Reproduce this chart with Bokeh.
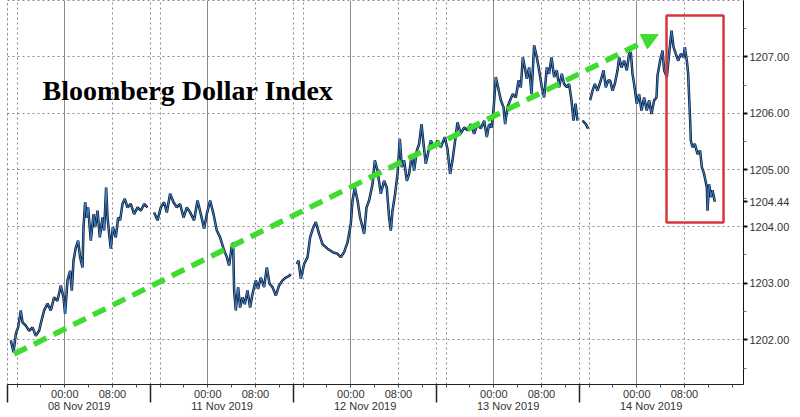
import numpy as np
from bokeh.plotting import figure
from bokeh.models import (ColumnDataSource, Range1d, LinearAxis, FixedTicker,
                          PrintfTickFormatter, Grid, Label, BoxAnnotation,
                          Arrow, NormalHead)
from bokeh.embed import file_html
from bokeh.resources import INLINE

# ---------------- data ----------------
# x axis: trading-time hours, 0 = 08 Nov 2019 00:00, each trading day = 24 h (weekend removed)
dates = ["08 Nov 2019", "11 Nov 2019", "12 Nov 2019", "13 Nov 2019", "14 Nov 2019"]
day_start = [0, 24, 48, 72, 96]
time_ticks = [0, 8]
time_labels = ["00:00", "08:00"]
y_ticks = [1202, 1203, 1204, 1205, 1206, 1207]

# session segments (gaps between them)
hours_a = [-9.06, -8.61, -8.22, -7.84, -7.39, -7.10, -6.55, -5.99, -5.42, -4.87, -4.31, -4.03,
           -3.47, -2.90, -2.35, -1.80, -1.23, -0.67, -0.22, 0.05, 0.45, 0.89, 1.17, 1.46, 1.85,
           2.23, 2.57, 2.97, 3.14, 3.41, 3.69, 3.91, 4.36, 4.82, 5.09, 5.49, 5.87, 6.33, 6.60,
           6.93, 7.17, 7.44, 7.72, 8.06, 8.56, 8.95, 9.28, 9.68, 10.07, 10.52, 11.08, 11.63,
           12.20, 12.76, 13.31, 13.88]
values_a = [1201.99, 1201.78, 1202.11, 1202.22, 1202.52, 1202.31, 1202.25, 1202.16, 1202.22,
            1202.07, 1202.16, 1202.29, 1202.52, 1202.64, 1202.52, 1202.75, 1202.69, 1202.96,
            1202.75, 1202.46, 1203.05, 1203.22, 1202.87, 1203.40, 1203.63, 1203.75, 1203.46,
            1203.28, 1203.99, 1204.43, 1204.16, 1204.34, 1203.75, 1204.22, 1203.99, 1204.28,
            1203.81, 1204.16, 1203.93, 1204.69, 1204.16, 1203.87, 1203.61, 1203.99, 1203.81,
            1204.16, 1204.11, 1204.40, 1204.49, 1204.34, 1204.40, 1204.22, 1204.34, 1204.28,
            1204.40, 1204.34]

hours_b = [14.99, 15.56, 16.11, 16.67, 17.12, 17.67, 18.24, 18.80, 19.35, 19.92, 20.48, 21.03,
           21.70, 22.27, 22.83, 23.38, 23.83, 24.39, 24.96, 25.51, 26.07, 26.64, 27.19, 27.58,
           27.98, 28.25, 28.42, 28.70, 29.09, 29.42, 29.83, 30.21, 30.66, 31.10, 31.50, 32.06,
           32.44, 32.90, 33.45, 33.90, 34.36, 34.86, 35.41, 35.97, 36.54, 37.09, 37.65, 37.93]
values_b = [1204.25, 1204.11, 1204.34, 1204.43, 1204.25, 1204.58, 1204.43, 1204.34, 1204.40,
            1204.16, 1204.34, 1204.25, 1204.11, 1204.46, 1204.22, 1203.96, 1204.22, 1204.46,
            1204.22, 1203.93, 1203.81, 1203.61, 1203.46, 1203.31, 1203.63, 1203.72, 1202.87,
            1202.52, 1202.93, 1202.57, 1202.75, 1202.63, 1202.87, 1202.57, 1202.81, 1203.05,
            1202.90, 1203.10, 1202.93, 1203.28, 1202.99, 1202.93, 1202.78, 1202.96, 1203.05,
            1203.10, 1203.13, 1203.16]

hours_c = [38.94, 39.22, 39.61, 40.17, 40.74, 41.17, 41.62, 42.13, 42.68, 43.25, 44.09, 44.93,
           45.77, 46.32, 46.88, 47.45, 48.00, 48.29, 48.67, 49.13, 49.56, 49.97, 50.24, 50.64,
           51.07, 51.65, 52.03, 52.48, 53.04, 53.59, 54.04, 54.43, 54.72, 55.00, 55.44, 55.84,
           56.23, 56.56, 56.95, 57.40, 57.79, 58.24, 58.63, 59.08, 59.47, 59.87, 60.21, 60.59,
           61.05, 61.43, 61.99, 62.55, 63.11, 63.78, 64.23, 64.67, 65.07, 65.51, 65.91, 66.46,
           67.02, 67.59, 68.14, 68.70, 69.27, 69.82, 70.38, 70.83, 71.21, 71.62, 71.95, 72.34,
           72.72, 73.18, 73.63, 73.90, 74.30, 74.74, 75.19, 75.70, 76.15, 76.54, 76.87, 77.21,
           77.54, 77.93, 78.33, 78.77, 79.22, 79.61, 80.06, 80.45, 80.90, 81.29, 81.69, 82.13,
           82.58, 82.97, 83.42, 83.80, 84.26, 84.64, 85.04, 85.38, 85.72, 86.05]
values_c = [1203.34, 1203.40, 1203.08, 1203.34, 1203.46, 1203.81, 1203.96, 1204.08, 1203.87,
            1203.69, 1203.61, 1203.55, 1203.52, 1203.46, 1203.55, 1203.72, 1204.05, 1204.46,
            1204.69, 1204.46, 1204.16, 1203.99, 1203.87, 1204.34, 1204.46, 1204.75, 1205.17,
            1204.99, 1204.58, 1204.81, 1204.69, 1204.16, 1203.93, 1204.28, 1204.58, 1204.93,
            1205.55, 1205.05, 1205.17, 1204.81, 1204.93, 1205.28, 1204.99, 1205.34, 1205.46,
            1205.81, 1205.46, 1205.11, 1205.34, 1205.52, 1205.40, 1205.52, 1205.40, 1205.58,
            1205.37, 1204.93, 1205.17, 1205.52, 1205.84, 1205.64, 1205.75, 1205.70, 1205.81,
            1205.64, 1205.81, 1205.73, 1205.87, 1205.58, 1205.81, 1205.75, 1206.05, 1206.64,
            1206.46, 1206.23, 1206.11, 1205.81, 1206.11, 1206.23, 1206.34, 1206.28, 1206.58,
            1206.46, 1206.99, 1206.81, 1206.61, 1206.81, 1206.34, 1207.20, 1206.99, 1206.76,
            1206.46, 1206.28, 1206.81, 1206.70, 1206.99, 1206.64, 1206.76, 1206.46, 1206.70,
            1206.52, 1206.46, 1206.52, 1206.23, 1205.87, 1206.17, 1205.87]

hours_d = [86.89, 87.45, 87.83]
values_d = [1205.87, 1205.81, 1205.73]

hours_e = [88.17, 88.57, 88.96, 89.41, 89.96, 90.42, 90.80, 91.19, 91.53, 91.93, 92.31, 92.77,
           93.04, 93.44, 93.88, 94.33, 94.71, 95.00, 95.28, 95.55, 96.00, 96.39, 96.79, 97.23,
           97.68, 98.07, 98.47, 98.91, 99.31, 99.48, 99.92, 100.32, 100.59, 101.04, 101.43,
           101.83, 102.17, 102.55, 102.94, 103.39, 103.84, 104.06, 104.40, 104.62, 104.79,
           104.96, 105.07, 105.36, 105.74, 106.20, 106.63, 106.92, 107.30, 107.76, 107.87,
           108.14, 108.43, 108.71, 109.10]
values_e = [1206.23, 1206.40, 1206.52, 1206.40, 1206.58, 1206.76, 1206.46, 1206.58, 1206.58,
            1206.40, 1206.52, 1206.76, 1206.99, 1206.81, 1206.93, 1206.76, 1207.05, 1207.08,
            1206.70, 1206.52, 1206.17, 1206.34, 1206.05, 1206.28, 1206.05, 1206.23, 1205.99,
            1206.23, 1206.28, 1206.67, 1206.93, 1207.11, 1206.76, 1206.64, 1207.05, 1207.46,
            1207.17, 1207.05, 1206.93, 1207.05, 1206.99, 1207.17, 1206.93, 1206.70, 1206.28,
            1205.87, 1205.52, 1205.40, 1205.46, 1205.28, 1205.34, 1205.05, 1204.93, 1204.69,
            1204.28, 1204.75, 1204.52, 1204.64, 1204.44]

segments = [(hours_a, values_a), (hours_b, values_b), (hours_c, values_c),
            (hours_d, values_d), (hours_e, values_e)]

# ---------------- build ----------------
xs, ys = [], []
for hs, vs in segments:
    if xs:
        xs.append(np.nan)
        ys.append(np.nan)
    xs.extend(hs)
    ys.extend(vs)
src = ColumnDataSource(dict(x=np.array(xs, dtype=float), y=np.array(ys, dtype=float)))
last_value = values_e[-1]

FRAME_W, FRAME_H = 736, 384
PX_PER_H, PX_PER_UNIT = 5.958, 56.62
X0 = -9.62
X1 = X0 + FRAME_W / PX_PER_H
Y1 = 1207.993
Y0 = Y1 - FRAME_H / PX_PER_UNIT

p = figure(frame_width=FRAME_W, frame_height=FRAME_H, x_range=Range1d(X0, X1),
           y_range=Range1d(Y0, Y1),
           output_backend="svg", toolbar_location=None, y_axis_location="right",
           min_border=0, min_border_left=7, min_border_right=0, min_border_top=0,
           min_border_bottom=0, background_fill_color="white", border_fill_color="white")

FONT = "Liberation Sans"
LBL = "#333333"

# --- x axis 1: times ---
xa = p.xaxis[0]
major_x = [d + t for d in day_start for t in time_ticks]
minor_x = [d + m for d in [-24] + day_start for m in (4, 12, 16, 20)]
minor_x = [m for m in minor_x if X0 < m < X1]
xa.ticker = FixedTicker(ticks=major_x, minor_ticks=minor_x)
xa.major_label_overrides = {d + t: lab for d in day_start for t, lab in zip(time_ticks, time_labels)}
xa.axis_line_color = "#222222"
xa.major_tick_out = 3
xa.major_tick_in = 0
xa.minor_tick_out = 3
xa.minor_tick_in = 0
xa.major_tick_line_color = "#444444"
xa.minor_tick_line_color = "#444444"
xa.major_label_standoff = 0
xa.axis_label_standoff = 0
xa.major_label_text_font = FONT
xa.major_label_text_font_size = "11px"
xa.major_label_text_color = LBL

# --- x axis 2: dates, with the day separators as ticks reaching up to the main axis ---
band_centers = [d + 2.4 for d in day_start]
separators = [d - 9.6 for d in day_start]
da = LinearAxis(ticker=FixedTicker(ticks=band_centers, minor_ticks=separators))
da.major_label_overrides = {c: lab for c, lab in zip(band_centers, dates)}
da.axis_line_color = None
da.major_tick_out = 0
da.major_tick_in = 0
da.minor_tick_out = 0
da.minor_tick_in = 18
da.minor_tick_line_color = "#222222"
da.minor_tick_line_width = 1.5
da.major_label_standoff = -3
da.axis_label_standoff = 0
da.major_label_text_font = FONT
da.major_label_text_font_size = "11px"
da.major_label_text_color = LBL
p.add_layout(da, "below")

# --- y axis (right); the last value is shown as an extra label ---
ya = p.yaxis[0]
ya.ticker = FixedTicker(ticks=y_ticks + [last_value],
                        minor_ticks=[t + 0.5 for t in [y_ticks[0] - 1] + y_ticks])
ya.formatter = PrintfTickFormatter(format="%.2f")
ya.axis_line_color = "#111111"
ya.major_tick_out = 4
ya.major_tick_in = 0
ya.major_tick_line_width = 2
ya.major_tick_line_color = "#111111"
ya.minor_tick_out = 3
ya.minor_tick_in = 0
ya.minor_tick_line_color = "#777777"
ya.major_label_standoff = 2
ya.axis_label_standoff = 0
ya.major_label_text_font = FONT
ya.major_label_text_font_size = "11px"
ya.major_label_text_color = LBL

# --- grids ---
GRID = "#8c8c8c"
p.xgrid.visible = False
p.ygrid.ticker = FixedTicker(ticks=y_ticks)
p.ygrid.grid_line_color = GRID
p.ygrid.grid_line_dash = "2 3"
p.add_layout(Grid(dimension=0, ticker=FixedTicker(ticks=day_start),
                  grid_line_color="#8a8a8a", grid_line_width=1))
dotted_x = [d + 8 for d in day_start] + [d - 8 for d in day_start] + separators
p.add_layout(Grid(dimension=0, ticker=FixedTicker(ticks=dotted_x),
                  grid_line_color=GRID, grid_line_dash="2 3"))
p.outline_line_color = GRID
p.outline_line_dash = "2 3"

# --- series ---
p.line("x", "y", source=src, line_color="#101828", line_width=2.5)
p.line("x", "y", source=src, line_color="#3a86d8", line_width=1.0)

# --- annotations ---
p.add_layout(Label(x=-3.75, y=1206.40, text="Bloomberg Dollar Index",
                   text_font="Liberation Serif", text_font_style="bold",
                   text_font_size="28px", text_color="black",
                   text_baseline="alphabetic"))

p.add_layout(Arrow(x_start=-8.5, y_start=1201.75, x_end=99.6, y_end=1207.39,
                   line_color="#3fdc2f", line_width=5.5, line_dash="14 8",
                   end=NormalHead(size=16, fill_color="#3fdc2f", line_color="#3fdc2f")))

p.add_layout(BoxAnnotation(left=100.99, right=110.56, bottom=1204.07, top=1207.73,
                           fill_color=None, fill_alpha=0, line_color="#d8363e",
                           line_width=2.5, line_alpha=1))

open("out.html", "w").write(file_html(p, INLINE))
